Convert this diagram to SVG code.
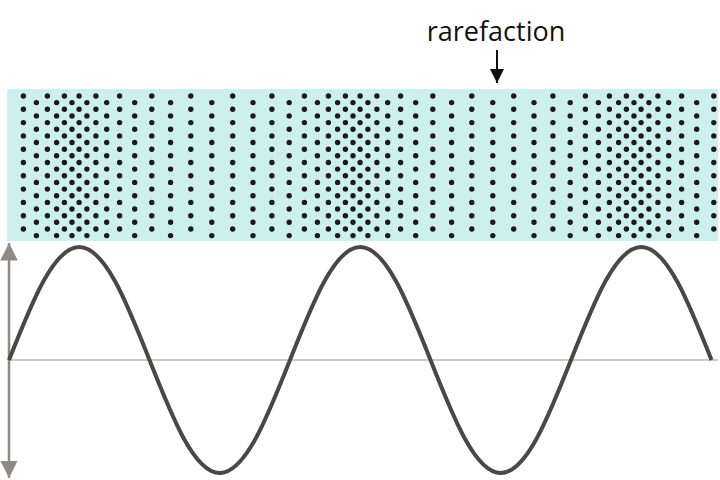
<svg xmlns="http://www.w3.org/2000/svg" width="720" height="480" viewBox="0 0 720 480">
<defs>
<style>
.c{stroke:#1a1a1a;stroke-width:5.4;stroke-linecap:round;stroke-dasharray:0 13.3;fill:none}
.o{stroke-dashoffset:-6.6}
</style>
<marker id="ga" viewBox="0 0 10 10" refX="10" refY="5" markerWidth="7" markerHeight="7" orient="auto-start-reverse" markerUnits="strokeWidth"><path d="M0,0 L10,5 L0,10Z" fill="#8f8a86"/></marker>
<marker id="ba" viewBox="0 0 10 10" refX="10" refY="5" markerWidth="7" markerHeight="7" orient="auto" markerUnits="strokeWidth"><path d="M0,0 L10,5 L0,10Z" fill="#111"/></marker>
</defs>
<rect x="7" y="89" width="711" height="152" fill="#ccf0ee"/>
<g id="dots">
<path class="c" d="M23.4,96V238M47.4,96V238M64.4,96V238M79.1,96V238M95.9,96V238M119.6,96V238M151.8,96V238M190.8,96V238M232.7,96V238M271.9,96V238M304.4,96V238M328.4,96V238M345.4,96V238M360.1,96V238M376.9,96V238M400.6,96V238M432.8,96V238M471.8,96V238M513.7,96V238M552.9,96V238M585.4,96V238M609.4,96V238M626.4,96V238M641.1,96V238M657.9,96V238M681.6,96V238M713.8,96V238"/>
<path class="c o" d="M36.4,96V238M56.6,96V238M72,96V238M86.9,96V238M106.7,96V238M134.7,96V238M170.6,96V238M211.8,96V238M253,96V238M289.2,96V238M317.4,96V238M337.6,96V238M353,96V238M367.9,96V238M387.7,96V238M415.7,96V238M451.6,96V238M492.8,96V238M534,96V238M570.2,96V238M598.4,96V238M618.6,96V238M634,96V238M648.9,96V238M668.7,96V238M696.7,96V238"/>
</g>
<g id="axes">
<line x1="9" y1="243" x2="9" y2="478" stroke="#8f8a86" stroke-width="2.5" marker-start="url(#ga)" marker-end="url(#ga)"/>
<line x1="9" y1="360" x2="718" y2="360" stroke="#9a9693" stroke-width="1.2"/>
</g>
<path id="wave" fill="none" stroke="#4a4846" stroke-width="4" d="M9,360 C31.9,302.1 53.7,247 79.25,247 C104.75,247 126.6,302.1 149.5,360 C172.4,417.9 194.25,473 219.75,473 C245.25,473 267.1,417.9 290,360 C312.9,302.1 334.7,247 360.25,247 C385.75,247 407.6,302.1 430.5,360 C453.4,417.9 475.25,473 500.75,473 C526.25,473 548.1,417.9 571,360 C593.9,302.1 615.7,247 641.25,247 C666.75,247 688.6,302.1 711.5,360"/>
<g id="label">
<text x="496" y="41" font-family="Open Sans, sans-serif" font-size="27" text-anchor="middle" fill="#111">rarefaction</text>
<line x1="497" y1="50" x2="497" y2="83" stroke="#111" stroke-width="2" marker-end="url(#ba)"/>
</g>
</svg>
